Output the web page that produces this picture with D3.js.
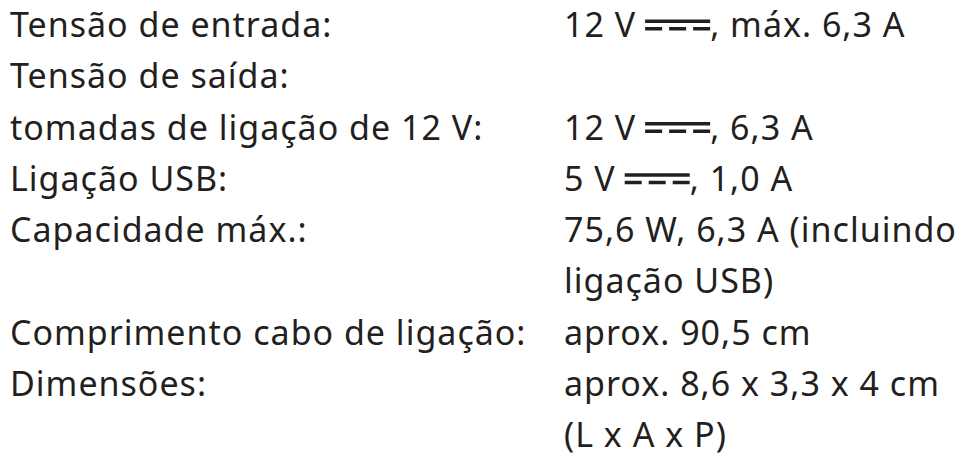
<!DOCTYPE html>
<html>
<head>
<meta charset="utf-8">
<script src="https://cdn.jsdelivr.net/npm/d3@7"></script>
<style>
  body { margin: 0; background: #fff; }
  svg text { font-family: "Noto Sans", sans-serif; fill: #231f20; letter-spacing: 1px; }
</style>
</head>
<body>
<svg id="specs" width="966" height="457"></svg>
<script>
// left column labels, one per line ('' = continuation line)
const labels = [
  'Tensão de entrada:',
  'Tensão de saída:',
  'tomadas de ligação de 12 V:',
  'Ligação USB:',
  'Capacidade máx.:',
  '',
  'Comprimento cabo de ligação:',
  'Dimensões:',
  ''
]

// right column: [before DC symbol, after DC symbol] or plain string
const values = [
  ['12 V', ', máx. 6,3 A'],
  '',
  ['12 V', ', 6,3 A'],
  ['5 V', ', 1,0 A'],
  '75,6 W, 6,3 A (incluindo',
  'ligação USB)',
  'aprox. 90,5 cm',
  'aprox. 8,6 x 3,3 x 4 cm',
  '(L x A x P)'
]

function drawSpecs() {
  const svg = d3.select('#specs')
  const fontSize = 34
  const leftX = 10
  const rightX = 564
  const ink = '#231f20'

  const y = d3.scalePoint()
    .domain(d3.range(labels.length))
    .range([37, 447])

  svg.selectAll('text.label')
    .data(labels)
    .join('text')
    .attr('class', 'label')
    .attr('x', leftX)
    .attr('y', (d, i) => y(i))
    .style('font-size', fontSize + 'px')
    .text(d => d)

  const rows = svg.selectAll('g.value')
    .data(values)
    .join('g')
    .attr('class', 'value')
    .attr('transform', (d, i) => `translate(${rightX},${y(i)})`)

  // DC symbol: solid line over three dashes
  const symW = 65
  const dash = 17
  const gap = 9

  rows.each(function(d) {
    const g = d3.select(this)
    if (!Array.isArray(d)) {
      g.append('text').style('font-size', fontSize + 'px').text(d)
      return
    }
    const first = g.append('text').style('font-size', fontSize + 'px').text(d[0])
    const sx = first.node().getComputedTextLength() + gap
    g.append('rect')
      .attr('x', sx).attr('y', -17.5)
      .attr('width', symW).attr('height', 3.5)
      .attr('fill', ink)
    d3.range(3).forEach(k => {
      g.append('rect')
        .attr('x', sx + k * (symW - dash) / 2).attr('y', -10)
        .attr('width', dash).attr('height', 3.5)
        .attr('fill', ink)
    })
    g.append('text')
      .attr('x', sx + symW)
      .style('font-size', fontSize + 'px')
      .text(d[1])
  })
}

document.addEventListener('DOMContentLoaded', drawSpecs, false)
</script>
</body>
</html>
